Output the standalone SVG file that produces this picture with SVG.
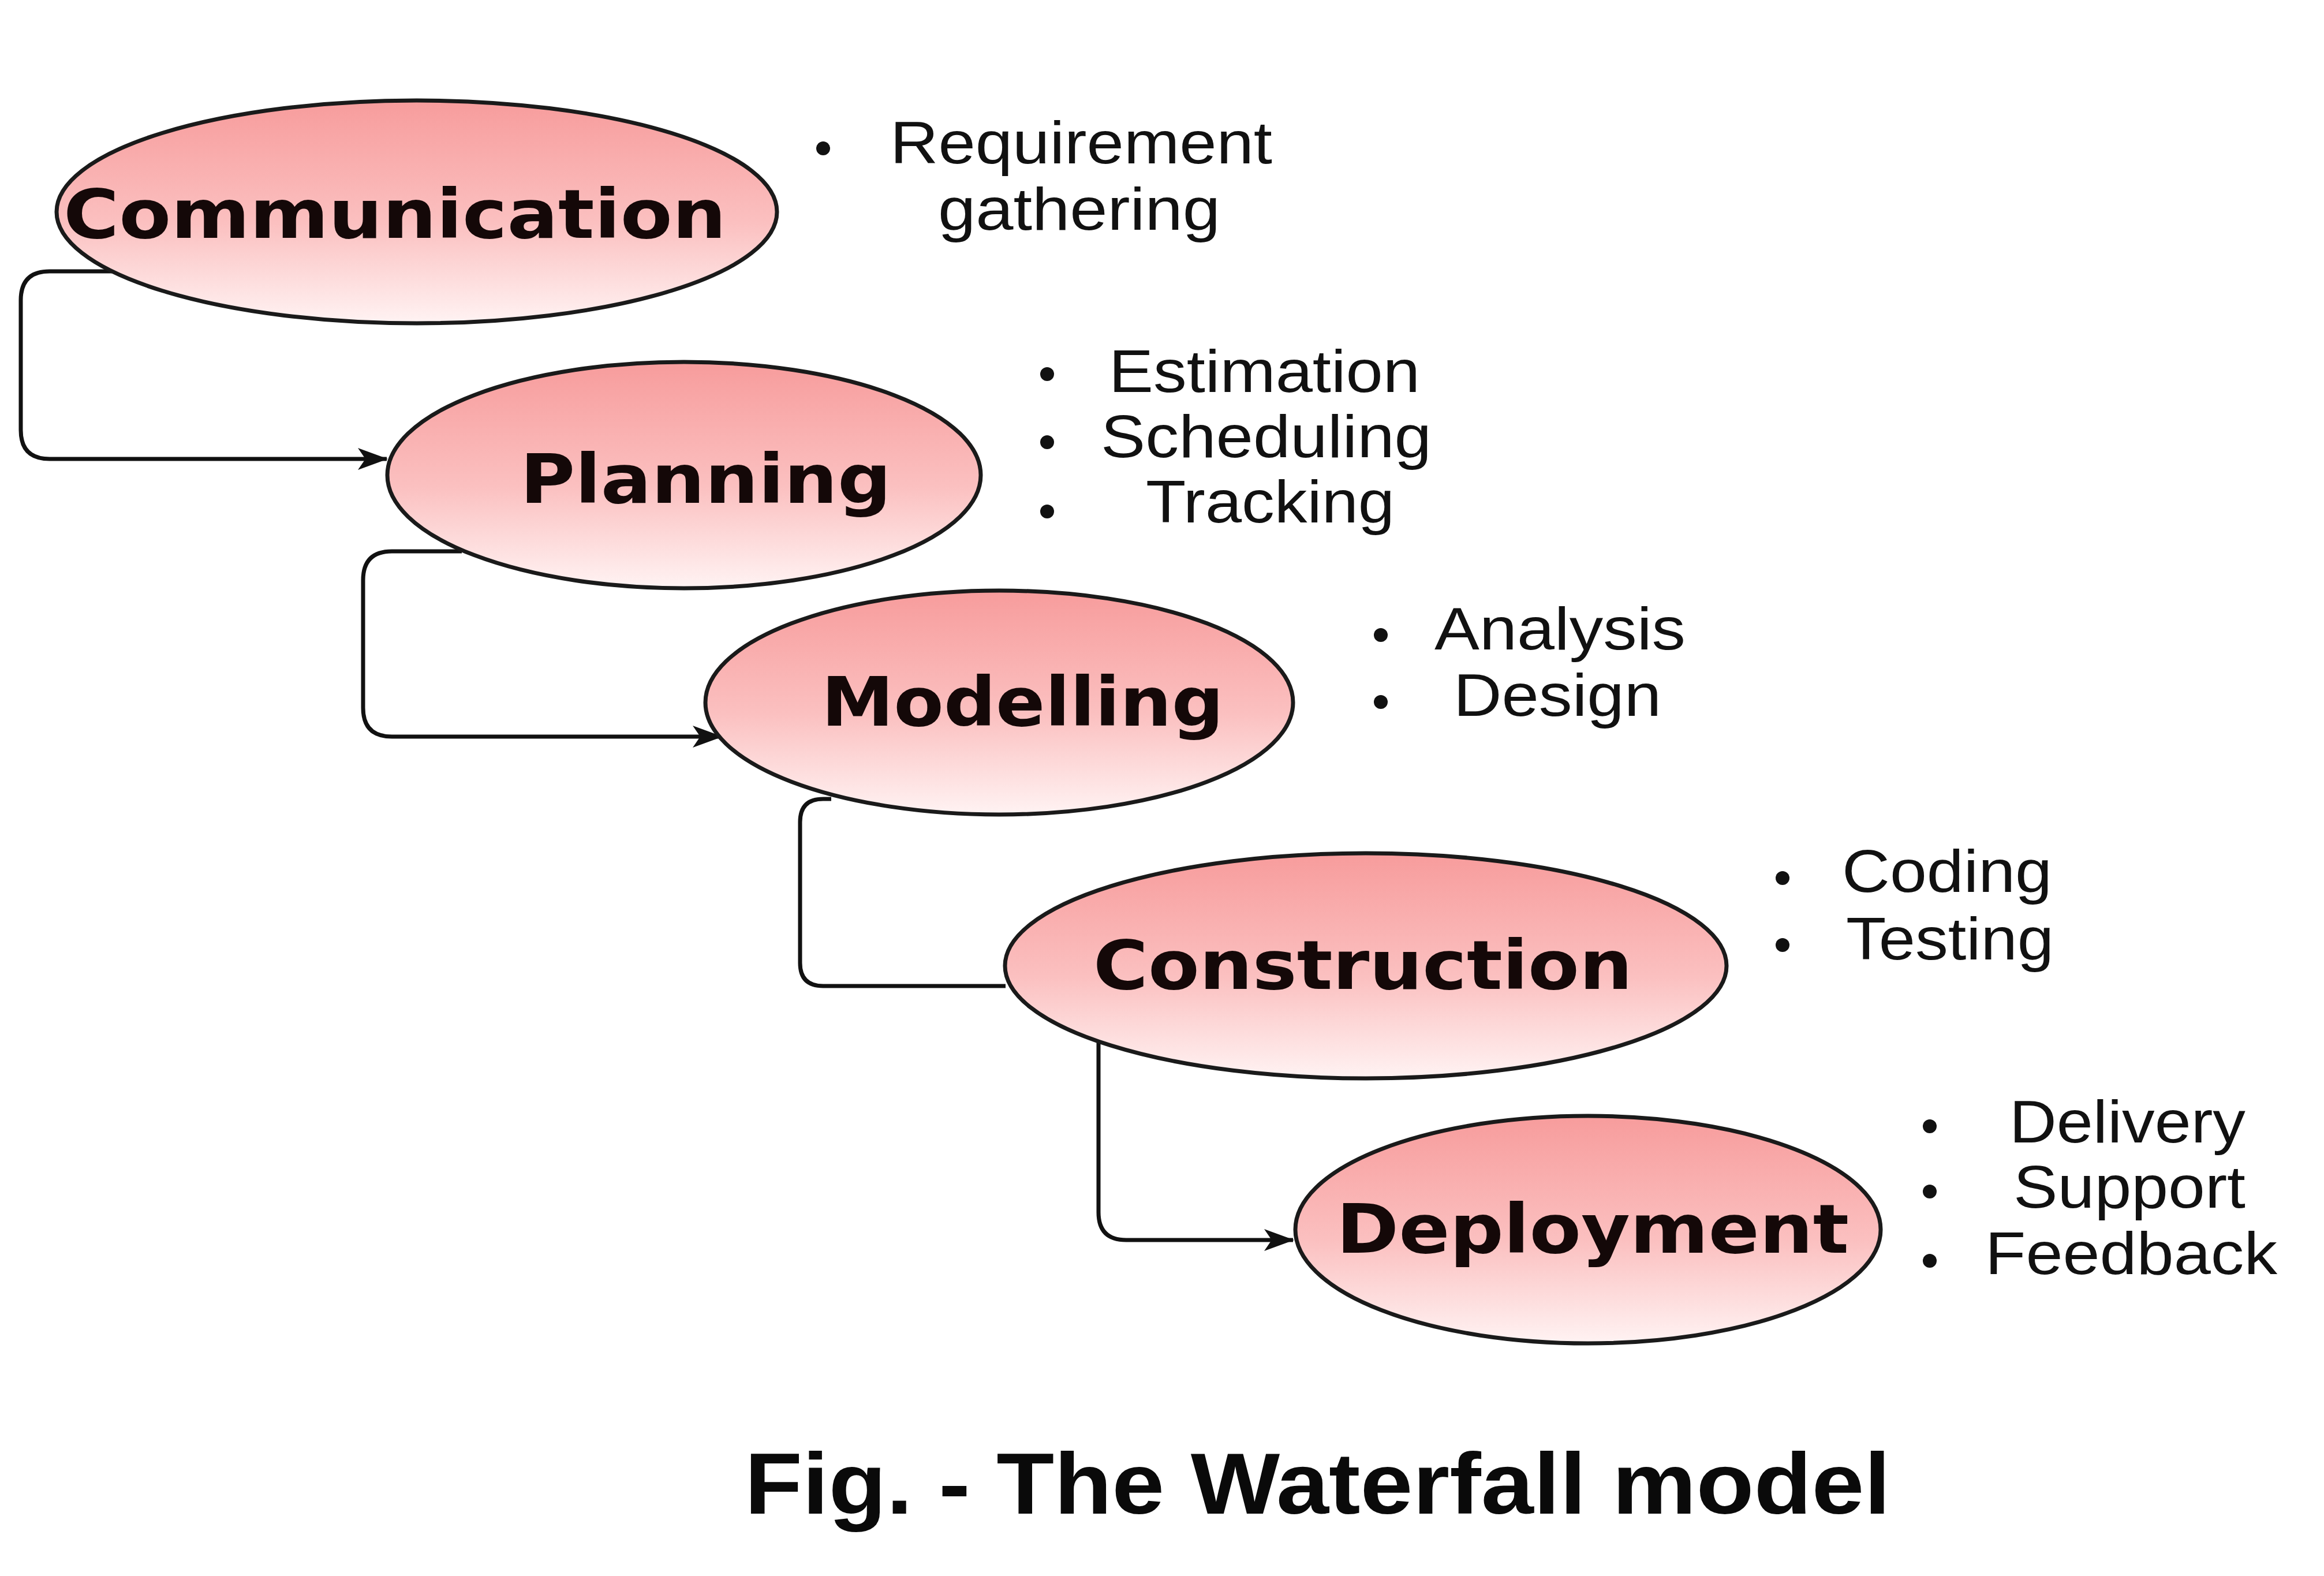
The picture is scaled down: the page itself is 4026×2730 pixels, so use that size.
<svg xmlns="http://www.w3.org/2000/svg" width="4026" height="2730" viewBox="0 0 4026 2730">
<defs>
<linearGradient id="pink" x1="0" y1="0" x2="0" y2="1">
<stop offset="0" stop-color="#f79c9c"/>
<stop offset="0.55" stop-color="#fbc0c0"/>
<stop offset="1" stop-color="#fff3f3"/>
</linearGradient>
<marker id="arr" markerUnits="userSpaceOnUse" markerWidth="54" markerHeight="44" viewBox="0 0 54 44" refX="50" refY="22" orient="auto">
<path d="M0,3 L52,22 L0,41 L13,22 z" fill="#111"/>
</marker>
<style>
.node{fill:url(#pink);stroke:#1a1a1a;stroke-width:7}
.lbl{font-family:"DejaVu Sans","Liberation Sans",sans-serif;font-weight:bold;font-size:118px;fill:#140808}
.bul{font-family:"Liberation Sans",Arial,sans-serif;font-size:104px;fill:#111}
.dot{fill:#111}
.con{fill:none;stroke:#111;stroke-width:7}
.cap{font-family:"Liberation Sans",Arial,sans-serif;font-weight:bold;font-size:150px;fill:#0a0a0a}
</style>
</defs>
<rect x="0" y="0" width="4026" height="2730" fill="#ffffff"/>
<g id="connectors">
<path class="con" d="M194 470 H86 Q36 470 36 520 V745 Q36 795 86 795 H670" marker-end="url(#arr)"/>
<path class="con" d="M800 955 H679 Q629 955 629 1005 V1226 Q629 1276 679 1276 H1250" marker-end="url(#arr)"/>
<path class="con" d="M1440 1384 H1426 Q1386 1384 1386 1424 V1668 Q1386 1708 1426 1708 H1742"/>
<path class="con" d="M1903 1804 V2100 Q1903 2148 1951 2148 H2240" marker-end="url(#arr)"/>
</g>
<g id="communication">
<ellipse class="node" cx="722" cy="367" rx="624" ry="193"/>
<text class="lbl" x="110" y="412" textLength="1148" lengthAdjust="spacingAndGlyphs">Communication</text>
</g>
<g id="communication-notes">
<circle class="dot" cx="1426" cy="257" r="12"/>
<text class="bul" x="1542" y="283" textLength="662" lengthAdjust="spacingAndGlyphs">Requirement</text>
<text class="bul" x="1625" y="398" textLength="489" lengthAdjust="spacingAndGlyphs">gathering</text>
</g>
<g id="planning">
<ellipse class="node" cx="1185" cy="823" rx="514" ry="196"/>
<text class="lbl" x="901" y="871" textLength="643" lengthAdjust="spacingAndGlyphs">Planning</text>
</g>
<g id="planning-notes">
<circle class="dot" cx="1814" cy="648" r="12"/>
<circle class="dot" cx="1814" cy="766" r="12"/>
<circle class="dot" cx="1814" cy="886" r="12"/>
<text class="bul" x="1921" y="679" textLength="539" lengthAdjust="spacingAndGlyphs">Estimation</text>
<text class="bul" x="1907" y="792" textLength="573" lengthAdjust="spacingAndGlyphs">Scheduling</text>
<text class="bul" x="1985" y="905" textLength="431" lengthAdjust="spacingAndGlyphs">Tracking</text>
</g>
<g id="modelling">
<ellipse class="node" cx="1731" cy="1217" rx="509" ry="194"/>
<text class="lbl" x="1423" y="1257" textLength="697" lengthAdjust="spacingAndGlyphs">Modelling</text>
</g>
<g id="modelling-notes">
<circle class="dot" cx="2392" cy="1100" r="12"/>
<circle class="dot" cx="2392" cy="1216" r="12"/>
<text class="bul" x="2485" y="1125" textLength="435" lengthAdjust="spacingAndGlyphs">Analysis</text>
<text class="bul" x="2518" y="1240" textLength="360" lengthAdjust="spacingAndGlyphs">Design</text>
</g>
<g id="construction">
<ellipse class="node" cx="2366" cy="1673" rx="625" ry="195"/>
<text class="lbl" x="1894" y="1713" textLength="934" lengthAdjust="spacingAndGlyphs">Construction</text>
</g>
<g id="construction-notes">
<circle class="dot" cx="3088" cy="1521" r="12"/>
<circle class="dot" cx="3088" cy="1637" r="12"/>
<text class="bul" x="3191" y="1545" textLength="364" lengthAdjust="spacingAndGlyphs">Coding</text>
<text class="bul" x="3198" y="1662" textLength="360" lengthAdjust="spacingAndGlyphs">Testing</text>
</g>
<g id="deployment">
<ellipse class="node" cx="2751" cy="2130" rx="507" ry="197"/>
<text class="lbl" x="2315" y="2170" textLength="888" lengthAdjust="spacingAndGlyphs">Deployment</text>
</g>
<g id="deployment-notes">
<circle class="dot" cx="3343" cy="1951" r="12"/>
<circle class="dot" cx="3343" cy="2064" r="12"/>
<circle class="dot" cx="3343" cy="2184" r="12"/>
<text class="bul" x="3481" y="1979" textLength="409" lengthAdjust="spacingAndGlyphs">Delivery</text>
<text class="bul" x="3488" y="2092" textLength="402" lengthAdjust="spacingAndGlyphs">Support</text>
<text class="bul" x="3439" y="2207" textLength="506" lengthAdjust="spacingAndGlyphs">Feedback</text>
</g>
<g id="caption">
<text class="cap" x="1290" y="2622" textLength="1985" lengthAdjust="spacingAndGlyphs">Fig. - The Waterfall model</text>
</g>
</svg>
